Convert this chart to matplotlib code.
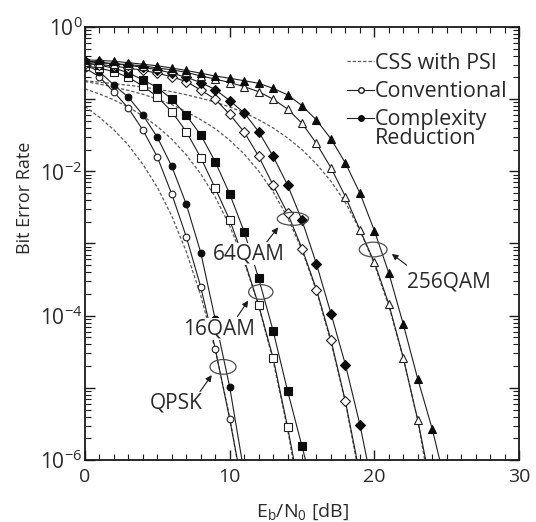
import numpy as np
import matplotlib.pyplot as plt
from matplotlib.patches import Ellipse
from matplotlib.lines import Line2D
from matplotlib.ticker import MultipleLocator, LogLocator, FuncFormatter, NullFormatter

plt.rcParams['font.family'] = ['Open Sans', 'DejaVu Sans']
plt.rcParams['mathtext.default'] = 'regular'

# Eb/N0 [dB] grids
snr_qpsk = np.arange(0, 12)
snr_16 = np.arange(0, 16)
snr_16cr = np.arange(0, 17)
snr_64 = np.arange(0, 20)
snr_64cr = np.arange(0, 21)
snr_256 = np.arange(0, 25)
snr_256cr = np.arange(0, 26)

# CSS with PSI (dashed)
psi_qpsk = [7.9e-2, 5.6e-2, 3.75e-2, 2.3e-2, 1.25e-2, 6.0e-3, 2.4e-3, 7.7e-4, 1.9e-4, 3.4e-5, 3.9e-6, 2.7e-7]
psi_16 = [0.139, 0.118, 0.0977, 0.0776, 0.0588, 0.0418, 0.0279, 0.0169, 9.2e-3, 4.4e-3, 1.76e-3, 5.6e-4,
          1.39e-4, 2.4e-5, 2.7e-6, 1.9e-7]
psi_64 = [0.175, 0.162, 0.147, 0.132, 0.117, 0.1, 0.084, 0.067, 0.052, 0.039, 0.027, 0.0174, 0.0101,
          5.2e-3, 2.3e-3, 8.1e-4, 2.2e-4, 4.3e-5, 6.3e-6, 5.5e-7]
psi_256 = [0.18, 0.172, 0.164, 0.156, 0.147, 0.137, 0.127, 0.115, 0.103, 0.091, 0.078, 0.065, 0.052,
           0.040, 0.029, 0.020, 0.0126, 7.3e-3, 3.7e-3, 1.53e-3, 5.2e-4, 1.36e-4, 2.6e-5, 3.5e-6, 2.6e-7]

# Conventional (open markers)
conv_qpsk = [0.27, 0.204, 0.125, 0.0748, 0.0374, 0.0158, 4.82e-3, 1.24e-3, 2.5e-4, 3.5e-5, 3.7e-6, 3.2e-7]
conv_16 = [0.29, 0.269, 0.24, 0.201, 0.152, 0.108, 0.0671, 0.0355, 0.0155, 5.83e-3, 2.12e-3, 6.0e-4,
           1.4e-4, 2.6e-5, 2.9e-6, 2.5e-7]
conv_64 = [0.31, 0.302, 0.288, 0.269, 0.251, 0.229, 0.204, 0.175, 0.134, 0.1, 0.0617, 0.0351, 0.0162,
           6.46e-3, 2.63e-3, 8.5e-4, 2.3e-4, 4.6e-5, 6.5e-6, 6.3e-7]
conv_256 = [0.33, 0.32, 0.31, 0.30, 0.29, 0.27, 0.255, 0.235, 0.21, 0.19, 0.17, 0.149, 0.127, 0.1,
            0.0731, 0.0463, 0.0243, 0.0112, 4.47e-3, 1.55e-3, 5.5e-4, 1.45e-4, 2.6e-5, 3.6e-6, 3.5e-7]

# Complexity Reduction (filled markers)
cr_qpsk = [0.30, 0.24, 0.157, 0.106, 0.0604, 0.0296, 0.0117, 3.5e-3, 7.5e-4, 8.9e-5, 1.03e-5, 6.6e-7]
cr_16 = [0.32, 0.295, 0.269, 0.232, 0.185, 0.145, 0.1, 0.0598, 0.0319, 0.0136, 4.86e-3, 1.46e-3,
         3.3e-4, 6.2e-5, 9.1e-6, 1.55e-6, 2.5e-7]
cr_64 = [0.34, 0.324, 0.309, 0.295, 0.275, 0.257, 0.229, 0.201, 0.17, 0.136, 0.0955, 0.0646, 0.0355,
         0.0162, 6.46e-3, 2.09e-3, 5.2e-4, 1.07e-4, 2.1e-5, 3.1e-6, 3.2e-7]
cr_256 = [0.35, 0.345, 0.335, 0.32, 0.305, 0.29, 0.27, 0.25, 0.229, 0.209, 0.195, 0.18, 0.166, 0.141,
          0.115, 0.0813, 0.0513, 0.0282, 0.013, 5.0e-3, 1.51e-3, 3.9e-4, 7.6e-5, 1.33e-5, 2.7e-6, 4e-7]

mod_labels = ['QPSK', '16QAM', '64QAM', '256QAM']

ink = '0.12'
txt = '#2a2a2a'
dash = (0, (2.6, 1.6))

fig = plt.figure(figsize=(5.36, 5.22), dpi=100)
ax = fig.add_axes([0.1586, 0.1188, 0.8097, 0.8295])

for s, b in [(snr_qpsk, psi_qpsk), (snr_16, psi_16), (snr_64, psi_64), (snr_256, psi_256)]:
    ax.plot(s, b, ls=dash, color='0.35', lw=0.9)

groups = [
    (snr_qpsk, conv_qpsk, snr_qpsk, cr_qpsk, 'o', 4.8),
    (snr_16, conv_16, snr_16cr, cr_16, 's', 5.2),
    (snr_64, conv_64, snr_64cr, cr_64, 'D', 4.6),
    (snr_256, conv_256, snr_256cr, cr_256, '^', 5.5),
]
for s1, c1, s2, c2, m, ms in groups:
    ax.plot(s1, c1, '-', color=ink, lw=0.8, marker=m, ms=ms, mfc='white', mec=ink, mew=0.8)
    ax.plot(s2, c2, '-', color=ink, lw=0.8, marker=m, ms=ms, mfc='0.05', mec='0.05', mew=0.8)

ax.set_yscale('log')
ax.set_xlim(0, 30)
ax.set_ylim(1e-6, 1)

ax.xaxis.set_major_locator(MultipleLocator(10))
ax.xaxis.set_minor_locator(MultipleLocator(1))
ax.yaxis.set_major_locator(LogLocator(base=10, numticks=12))
ax.yaxis.set_minor_locator(LogLocator(base=10, subs=np.arange(2, 10), numticks=12))
ax.yaxis.set_minor_formatter(NullFormatter())


def ylab(v, pos):
    e = int(round(np.log10(v)))
    return f'$10^{{{e}}}$' if e % 2 == 0 else ''


ax.yaxis.set_major_formatter(FuncFormatter(ylab))
ax.tick_params(which='both', direction='in', top=True, right=True, color='0.1')
ax.tick_params(which='major', length=7, width=1.0)
ax.tick_params(which='minor', length=4, width=0.8)
ax.tick_params(axis='x', labelsize=14, pad=6, labelcolor=txt)
ax.tick_params(axis='y', labelsize=15, pad=2, labelcolor=txt)
for sp in ax.spines.values():
    sp.set_linewidth(1.3)
    sp.set_color('0.1')

ax.set_xlabel('E$_b$/N$_0$ [dB]', fontsize=14, color=txt, labelpad=11)
ax.set_ylabel('Bit Error Rate', fontsize=13, color=txt)
ax.yaxis.set_label_coords(-0.118, 0.605)

# ellipses, arrows, labels (axes fraction)
ellipses = [(0.318, 0.215, 0.060, 0.034), (0.405, 0.388, 0.056, 0.034),
            (0.479, 0.557, 0.072, 0.030), (0.664, 0.486, 0.064, 0.034)]
arrows = [((0.265, 0.158), (0.292, 0.196)), ((0.351, 0.331), (0.376, 0.368)),
          ((0.419, 0.504), (0.445, 0.537)), ((0.741, 0.450), (0.707, 0.476))]
text_pos = [(0.210, 0.131), (0.308, 0.302), (0.378, 0.476), (0.839, 0.411)]

for (ex, ey, ew, eh), (p0, p1), (tx, ty), lab in zip(ellipses, arrows, text_pos, mod_labels):
    ax.add_patch(Ellipse((ex, ey), ew, eh, transform=ax.transAxes, fill=False,
                         ec='0.3', lw=0.9, zorder=5))
    ax.annotate('', xy=p1, xytext=p0, xycoords='axes fraction', textcoords='axes fraction',
                arrowprops=dict(arrowstyle='-|>', color='0.1', lw=0.8, mutation_scale=9,
                                shrinkA=0, shrinkB=0), zorder=6)
    ax.text(tx, ty, lab, transform=ax.transAxes, ha='center', va='center', fontsize=15,
            color=txt, zorder=7, bbox=dict(fc='white', ec='none', pad=0.5))

handles = [Line2D([], [], ls=dash, color='0.35', lw=0.9),
           Line2D([], [], color=ink, lw=0.8, marker='o', ms=4, mfc='white', mec=ink),
           Line2D([], [], color=ink, lw=0.8, marker='o', ms=4, mfc='0.05', mec='0.05')]
leg = ax.legend(handles, ['CSS with PSI', 'Conventional', 'Complexity'], loc='upper left',
                bbox_to_anchor=(0.604, 0.94), frameon=False, fontsize=15.5, handlelength=1.25,
                handletextpad=0.05, borderpad=0, borderaxespad=0, labelspacing=0.33)
for t in leg.get_texts():
    t.set_color(txt)

fig.canvas.draw()
bb = leg.get_texts()[2].get_window_extent()
rx, ry = ax.transAxes.inverted().transform((bb.x0, bb.y0 + 2))
ax.text(rx, ry, 'Reduction', transform=ax.transAxes, ha='left', va='top', fontsize=15.5,
        color=txt)

fig.savefig('out.png', dpi=100)
